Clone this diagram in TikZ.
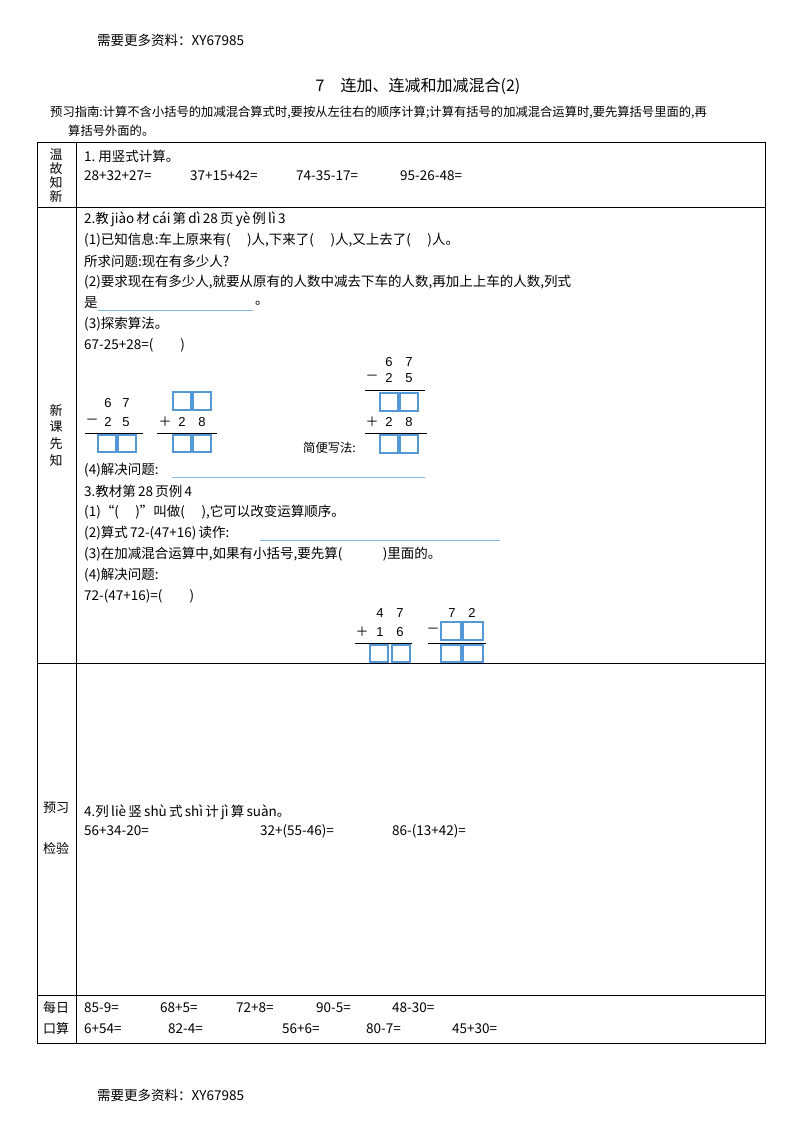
\documentclass[tikz,border=0pt]{standalone}
\usepackage{fontspec}
\setmainfont{Liberation Sans}
\newfontfamily\cjk{Noto Sans CJK SC}
\begin{document}
\begin{tikzpicture}[x=1pt,y=-1pt,
  t/.style={anchor=west,inner sep=0pt,font=\cjk\fontsize{13.5}{15}\selectfont},
  s/.style={anchor=west,inner sep=0pt,font=\cjk\fontsize{12.3}{14}\selectfont},
  lab/.style={inner sep=0pt,font=\cjk\fontsize{13}{15}\selectfont},
  dg/.style={inner sep=0pt,font=\fontsize{13}{15}\selectfont},
  op/.style={inner sep=0pt,font=\cjk\fontsize{13}{15}\selectfont},
  bx/.style={draw=cyan!60!blue!70,line width=1.2pt},
  bl/.style={draw=cyan!70!blue!50,line width=0.8pt}]
\useasboundingbox (0,0) rectangle (800,1132);
\node[t] (h1) at (97,40) {需要更多资料：XY67985};
\node[t] (h2) at (97,1095) {需要更多资料：XY67985};
\node[lab,font=\cjk\fontsize{16}{18}\selectfont] (title) at (418,86) {7\quad 连加、连减和加减混合(2)};
\node[s] (g1) at (50,112) {预习指南:计算不含小括号的加减混合算式时,要按从左往右的顺序计算;计算有括号的加减混合运算时,要先算括号里面的,再};
\node[s] (g2) at (68,131) {算括号外面的。};
% table
\draw[line width=0.9pt] (37,142) rectangle (765,1043);
\draw[line width=0.9pt] (76,142) -- (76,1043);
\foreach \y in {207,663,995} \draw[line width=0.9pt] (37,\y) -- (765,\y);
% labels
\foreach \c/\y in {温/155,故/169,知/183,新/197} \node[lab] at (56,\y) {\c};
\foreach \c/\y in {新/410,课/427,先/444,知/461} \node[lab] at (56,\y) {\c};
\foreach \c/\y in {预习/808,检验/848} \node[lab] at (56,\y) {\c};
\node[lab] at (56,1008) {每日};
\node[lab] at (56,1029) {口算};
% row1
\node[t] at (84,156) {1.\ 用竖式计算。};
\node[t] at (84,176) {28+32+27=};
\node[t] at (190,176) {37+15+42=};
\node[t] at (296,176) {74-35-17=};
\node[t] at (400,176) {95-26-48=};
% row2
\node[t] at (84,219) {2.教\,jiào\,材\,cái\,第\,dì\,28\,页\,yè\,例\,lì\,3};
\node[t] at (84,240) {(1)已知信息:车上原来有(\quad\ )人,下来了(\quad\ )人,又上去了(\quad\ )人。};
\node[t] at (84,261) {所求问题:现在有多少人?};
\node[t] at (84,282) {(2)要求现在有多少人,就要从原有的人数中减去下车的人数,再加上上车的人数,列式};
\node[t] at (84,303) {是};
\draw[bl] (98,310) -- (253,310);
\node[t] at (255,303) {。};
\node[t] at (84,324) {(3)探索算法。};
\node[t] at (84,345) {67-25+28=(\qquad)};
% calc 1
\node[dg] at (108,403) {6}; \node[dg] at (126,403) {7};
\node[op] at (92,422) {－}; \node[dg] at (108,422) {2}; \node[dg] at (126,422) {5};
\draw[thick] (85,433) -- (143,433);
\draw[bx] (98,435) rectangle (116,452); \draw[bx] (118,435) rectangle (136,452);
% calc 2
\draw[bx] (173,392) rectangle (191,410); \draw[bx] (193,392) rectangle (211,410);
\node[op] at (165,422) {＋}; \node[dg] at (182,422) {2}; \node[dg] at (202,422) {8};
\draw[thick] (157,433) -- (217,433);
\draw[bx] (173,435) rectangle (191,452); \draw[bx] (193,435) rectangle (211,452);
% calc 3
\node[dg] at (389,362) {6}; \node[dg] at (409,362) {7};
\node[op] at (372,378) {－}; \node[dg] at (389,378) {2}; \node[dg] at (409,378) {5};
\draw[thick] (365,390) -- (425,390);
\draw[bx] (380,393) rectangle (398,411); \draw[bx] (400,393) rectangle (418,411);
\node[op] at (372,422) {＋}; \node[dg] at (389,422) {2}; \node[dg] at (409,422) {8};
\draw[thick] (365,433) -- (427,433);
\draw[bx] (380,435) rectangle (398,453); \draw[bx] (400,435) rectangle (418,453);
\node[s] at (303,448) {简便写法:};
\node[t] at (84,470) {(4)解决问题:};
\draw[bl] (172,477) -- (425,477);
\node[t] at (84,491) {3.教材第\,28\,页例\,4};
\node[t] at (84,512) {(1)“(\quad\ )”叫做(\quad\ ),它可以改变运算顺序。};
\node[t] at (84,533) {(2)算式\,72-(47+16)\,读作:};
\draw[bl] (260,540) -- (500,540);
\node[t] at (84,554) {(3)在加减混合运算中,如果有小括号,要先算(\qquad\quad )里面的。};
\node[t] at (84,575) {(4)解决问题:};
\node[t] at (84,596) {72-(47+16)=(\qquad)};
% calc 4
\node[dg] at (380,613) {4}; \node[dg] at (400,613) {7};
\node[op] at (362,632) {＋}; \node[dg] at (380,632) {1}; \node[dg] at (400,632) {6};
\draw[thick] (355,643) -- (412,643);
\draw[bx] (370,645) rectangle (388,662); \draw[bx] (392,645) rectangle (410,662);
\node[dg] at (452,613) {7}; \node[dg] at (472,613) {2};
\node[op] at (433,631) {－};
\draw[bx] (441,622) rectangle (461,640); \draw[bx] (463,622) rectangle (483,640);
\draw[thick] (428,643) -- (486,643);
\draw[bx] (441,645) rectangle (461,662); \draw[bx] (463,645) rectangle (483,662);
% row3
\node[t] at (84,812) {4.列\,liè\,竖\,shù\,式\,shì\,计\,jì\,算\,suàn。};
\node[t] at (84,831) {56+34-20=};
\node[t] at (260,831) {32+(55-46)=};
\node[t] at (392,831) {86-(13+42)=};
% row4
\foreach \x/\e in {84/85-9=,160/68+5=,236/72+8=,316/90-5=,392/48-30=} \node[t] at (\x,1008) {\e};
\foreach \x/\e in {84/6+54=,168/82-4=,282/56+6=,366/80-7=,452/45+30=} \node[t] at (\x,1029) {\e};
\end{tikzpicture}
\end{document}
